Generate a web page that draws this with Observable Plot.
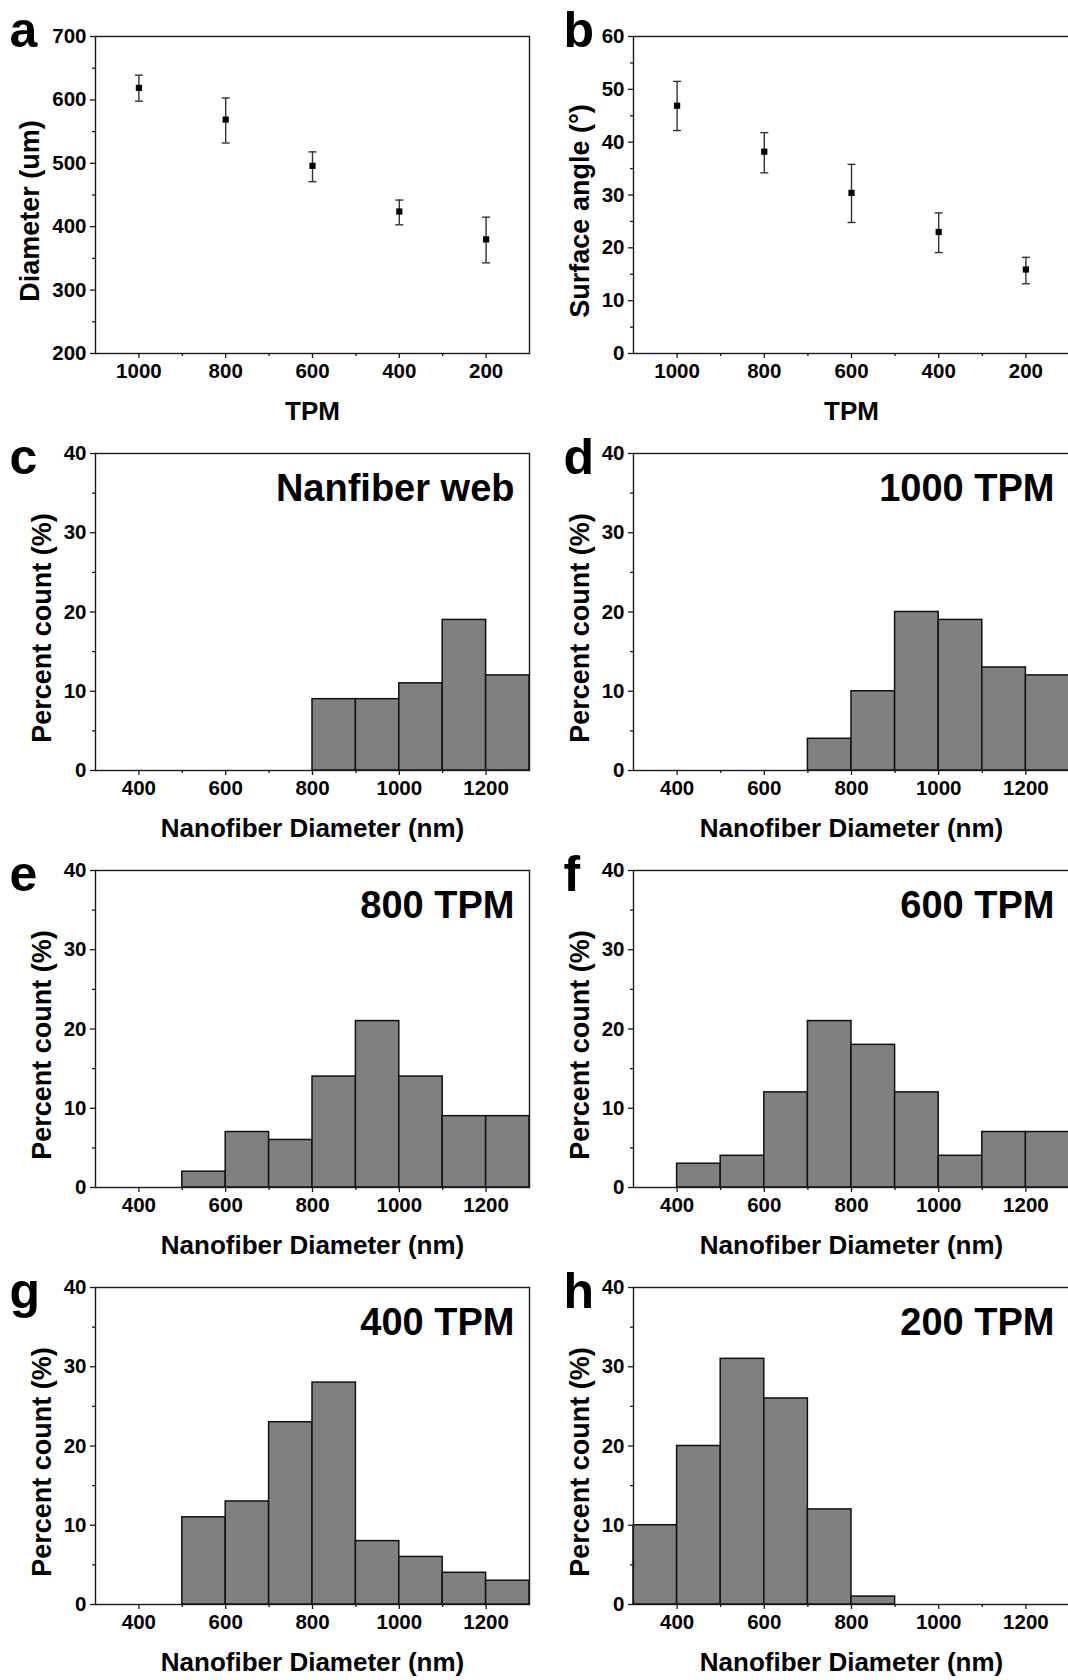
<!DOCTYPE html>
<html><head><meta charset="utf-8">
<script src="https://cdn.jsdelivr.net/npm/d3@7"></script>
<script src="https://cdn.jsdelivr.net/npm/@observablehq/plot@0.6"></script>
<style>
html,body{margin:0;padding:0;background:#fff;overflow:hidden}
#fig{position:relative;width:1068px;height:1680px;overflow:hidden;background:#fff}
#fig svg{position:absolute}
</style></head><body><div id="fig"></div>
<script>
// ---- data: panel a / b ----
const tpm = [1000, 800, 600, 400, 200];
const diameterMean = [619, 569, 496, 424, 380];
const diameterHigh = [639, 603, 518, 442, 415];
const diameterLow = [598, 532, 471, 403, 343];
const angleMean = [46.9, 38.2, 30.4, 23.0, 15.9];
const angleHigh = [51.5, 41.8, 35.8, 26.6, 18.2];
const angleLow = [42.2, 34.2, 24.8, 19.1, 13.2];

// ---- data: histograms (bin start in nm, percent count) ----
const binWidth = 100;
const webStarts = [800, 900, 1000, 1100, 1200];
const webPct = [9, 9, 11, 19, 12];
const tpm1000Starts = [700, 800, 900, 1000, 1100, 1200];
const tpm1000Pct = [4, 10, 20, 19, 13, 12];
const tpm800Starts = [500, 600, 700, 800, 900, 1000, 1100, 1200];
const tpm800Pct = [2, 7, 6, 14, 21, 14, 9, 9];
const tpm600Starts = [400, 500, 600, 700, 800, 900, 1000, 1100, 1200];
const tpm600Pct = [3, 4, 12, 21, 18, 12, 4, 7, 7];
const tpm400Starts = [500, 600, 700, 800, 900, 1000, 1100, 1200];
const tpm400Pct = [11, 13, 23, 28, 8, 6, 4, 3];
const tpm200Starts = [300, 400, 500, 600, 700, 800];
const tpm200Pct = [10, 20, 31, 26, 12, 1];

// ---- ticks ----
const tpmTicks = [1000, 800, 600, 400, 200];
const tpmMinor = [900, 700, 500, 300];
const diamTicks = [200, 300, 400, 500, 600, 700];
const diamMinor = [250, 350, 450, 550, 650];
const angleTicks = [0, 10, 20, 30, 40, 50, 60];
const angleMinor = [5, 15, 25, 35, 45, 55];
const nfTicks = [400, 600, 800, 1000, 1200];
const nfMinor = [500, 700, 900, 1100];
const pctTicks = [0, 10, 20, 30, 40];
const pctMinor = [5, 15, 25, 35];

const FONT = "'Liberation Sans', Arial, Helvetica, sans-serif";
const INK = "#1a1a1a";
const fig = document.getElementById("fig");

const capSymbol = {
  draw(context, size) {
    const r = Math.sqrt(size / Math.PI);
    context.moveTo(-r, 0);
    context.lineTo(r, 0);
  }
};

const fmt = d => String(d);

function axes(o) {
  return [
    Plot.axisX(o.xTicks, {tickSize: 5, tickPadding: 5, tickFormat: fmt, fontSize: 20.5, fontWeight: "bold", label: null, stroke: INK, strokeWidth: 1.3, fill: "#000"}),
    Plot.axisX(o.xMinor, {tickSize: 3, tickFormat: () => "", label: null, stroke: INK, strokeWidth: 1.3}),
    Plot.axisY(o.yTicks, {tickSize: 5, tickPadding: 4, tickFormat: fmt, fontSize: 20.5, fontWeight: "bold", label: null, stroke: INK, strokeWidth: 1.3, fill: "#000"}),
    Plot.axisY(o.yMinor, {tickSize: 3, tickFormat: () => "", label: null, stroke: INK, strokeWidth: 1.3})
  ];
}

function labels(o) {
  const m = [
    Plot.text([o.letter], {text: d => d, frameAnchor: "top-left", dx: o.letterDx, dy: o.letterDy, textAnchor: "start", lineAnchor: "bottom", fontSize: 50, fontWeight: "bold", fill: "#000"}),
    Plot.text([o.yTitle], {text: d => d, frameAnchor: "left", rotate: -90, dx: o.yTitleDx, dy: 16, textAnchor: "middle", lineAnchor: "bottom", fontSize: 27, fontWeight: "bold", fill: "#000"}),
    Plot.text([o.xTitle], {text: d => d, frameAnchor: "bottom", dy: 58, textAnchor: "middle", lineAnchor: "middle", fontSize: 26, fontWeight: "bold", fill: "#000"})
  ];
  if (o.inset) m.push(Plot.text([o.inset], {text: d => d, frameAnchor: "top-right", dx: -15, dy: 47, textAnchor: "end", lineAnchor: "bottom", fontSize: 38, fontWeight: "bold", fill: "#000"}));
  return m;
}

function place(svg, left, top) {
  svg.style.left = left + "px";
  svg.style.top = top + "px";
  fig.appendChild(svg);
}

const COL = [
  {left: 0, width: 540, ml: 95, mr: 11, letterDx: -86},
  {left: 534, width: 540, ml: 99, mr: 5, letterDx: -70}
];
const ROW_TOP = [0, 417, 834, 1251];

function base(col, marks, xDomain, yDomain) {
  return Plot.plot({
    width: col.width, height: 433,
    marginTop: 36, marginBottom: 80, marginLeft: col.ml, marginRight: col.mr,
    style: {fontFamily: FONT, background: "transparent", overflow: "visible", color: "#000"},
    x: {domain: xDomain},
    y: {domain: yDomain},
    marks
  });
}

function scatterPanel(col, row, o) {
  const data = tpm.map((t, i) => ({tpm: t, mean: o.mean[i], hi: o.hi[i], lo: o.lo[i]}));
  const marks = [
    Plot.ruleX(data, {x: "tpm", y1: "lo", y2: "hi", stroke: "#333", strokeWidth: 1.4}),
    Plot.dot(data, {x: "tpm", y: "hi", symbol: capSymbol, r: 4, stroke: "#333", strokeWidth: 1.4, fill: "none"}),
    Plot.dot(data, {x: "tpm", y: "lo", symbol: capSymbol, r: 4, stroke: "#333", strokeWidth: 1.4, fill: "none"}),
    Plot.dot(data, {x: "tpm", y: "mean", symbol: "square", r: 3.5, fill: "#000", stroke: "none"}),
    ...axes({xTicks: tpmTicks, xMinor: tpmMinor, yTicks: o.yTicks, yMinor: o.yMinor}),
    Plot.frame({stroke: INK, strokeWidth: 1.4}),
    ...labels({letter: o.letter, letterDx: col.letterDx, letterDy: 10, yTitle: o.yTitle, yTitleDx: o.yTitleDx, xTitle: "TPM"})
  ];
  place(base(col, marks, [1100, 100], o.yDomain), col.left, ROW_TOP[row]);
}

function histPanel(col, row, o) {
  const data = o.starts.map((s, i) => ({x1: s, x2: s + binWidth, pct: o.pct[i]}));
  const marks = [
    Plot.rectY(data, {x1: "x1", x2: "x2", y: "pct", fill: "#808080", stroke: "#111", strokeWidth: 1.5}),
    ...axes({xTicks: nfTicks, xMinor: nfMinor, yTicks: pctTicks, yMinor: pctMinor}),
    Plot.frame({stroke: INK, strokeWidth: 1.4}),
    ...labels({letter: o.letter, letterDx: col.letterDx, letterDy: 20, yTitle: "Percent count (%)", yTitleDx: -45, xTitle: "Nanofiber Diameter (nm)", inset: o.inset})
  ];
  place(base(col, marks, [300, 1300], [0, 40]), col.left, ROW_TOP[row]);
}

scatterPanel(COL[0], 0, {mean: diameterMean, hi: diameterHigh, lo: diameterLow, yDomain: [200, 700], yTicks: diamTicks, yMinor: diamMinor, letter: "a", yTitle: "Diameter (um)", yTitleDx: -57});
scatterPanel(COL[1], 0, {mean: angleMean, hi: angleHigh, lo: angleLow, yDomain: [0, 60], yTicks: angleTicks, yMinor: angleMinor, letter: "b", yTitle: "Surface angle (°)", yTitleDx: -45});

histPanel(COL[0], 1, {starts: webStarts, pct: webPct, letter: "c", inset: "Nanfiber web"});
histPanel(COL[1], 1, {starts: tpm1000Starts, pct: tpm1000Pct, letter: "d", inset: "1000 TPM"});
histPanel(COL[0], 2, {starts: tpm800Starts, pct: tpm800Pct, letter: "e", inset: "800 TPM"});
histPanel(COL[1], 2, {starts: tpm600Starts, pct: tpm600Pct, letter: "f", inset: "600 TPM"});
histPanel(COL[0], 3, {starts: tpm400Starts, pct: tpm400Pct, letter: "g", inset: "400 TPM"});
histPanel(COL[1], 3, {starts: tpm200Starts, pct: tpm200Pct, letter: "h", inset: "200 TPM"});
</script>
</body></html>
